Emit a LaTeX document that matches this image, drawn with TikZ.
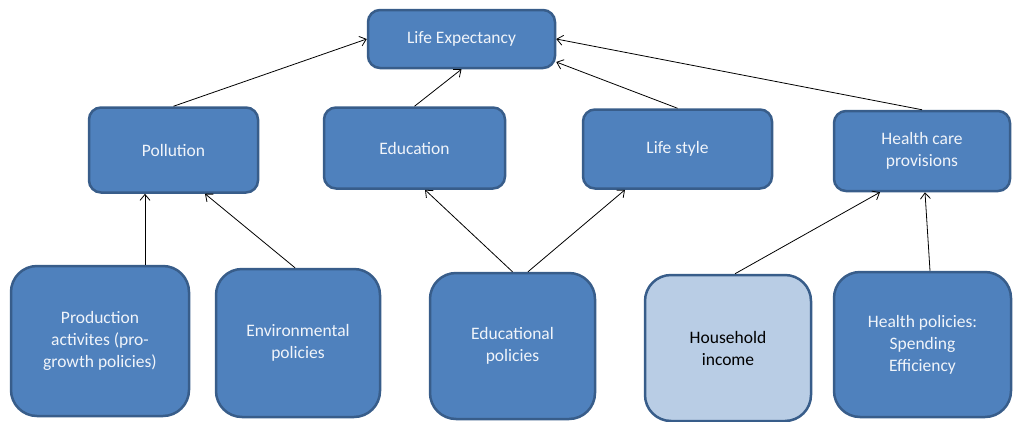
\documentclass[tikz,border=0pt]{standalone}
\usepackage{fontspec}
\setmainfont{Carlito}
\usepackage{tikz}
\definecolor{boxblue}{RGB}{79, 129, 189}
\definecolor{boxedge}{RGB}{56, 93, 138}
\definecolor{boxlight}{RGB}{185, 205, 229}
\definecolor{boxtext}{RGB}{240, 244, 250}
\usetikzlibrary{arrows.meta, shapes}

\begin{document}
\begin{tikzpicture}[x=1pt, y=-1pt,
				>={Straight Barb[length=6pt,width=10pt]},   %Pfeilspitzen
				font=\fontsize{17.5}{22}\selectfont,
				box/.style={draw=boxedge, fill=boxblue, line width=2.5pt, text=boxtext, align=center, rounded corners=12pt, inner sep=0pt},
				bigbox/.style={box, rounded corners=26pt},
				link/.style={->, line width=0.8pt}]
				%Bildbereich
				\useasboundingbox (0,0) rectangle (1013,421);
				% Ziel
				\node[box, minimum width=187, minimum height=58] (le) at (461.5,39) {Life Expectancy};
				% mittlere Ebene
				\node[box, minimum width=169, minimum height=85] (pol) at (173.5,150) {Pollution};
				\node[box, minimum width=181, minimum height=81] (edu) at (414.5,148) {Education};
				\node[box, minimum width=189, minimum height=79] (ls) at (677.5,149) {Life style};
				\node[box, minimum width=176, minimum height=80] (hc) at (922,151) {Health care\\provisions};
				% untere Ebene
				\node[bigbox, minimum width=178, minimum height=150] (prod) at (100,341) {Production\\activites (pro-\\growth policies)};
				\node[bigbox, minimum width=164, minimum height=148] (env) at (298,343) {Environmental\\policies};
				\node[bigbox, minimum width=165, minimum height=146] (eduy) at (512.5,346) {Educational\\policies};
				\node[bigbox, fill=boxlight, text=black, minimum width=166, minimum height=146] (hh) at (728,348) {Household\\income};
				\node[bigbox, minimum width=177, minimum height=145] (hp) at (922.5,344.5) {Health policies:\\Spending\\Efficiency};
				% Pfeile nach oben
				\draw[link] (pol.north) -- (le.west);
				\draw[link] (edu.north) -- (le.south);
				\draw[link] (ls.north) -- ([yshift=-23pt]le.east);
				\draw[link] (hc.north) -- (le.east);
				\draw[link] ([xshift=45pt]prod.north) -- ([xshift=-28.5pt]pol.south);
				\draw[link] ([xshift=-3pt]env.north) -- ([xshift=31.5pt]pol.south);
				\draw[link] (eduy.north) -- ([xshift=10.5pt]edu.south);
				\draw[link] ([xshift=15.5pt]eduy.north) -- ([xshift=-52.5pt]ls.south);
				\draw[link] ([xshift=7pt]hh.north) -- ([xshift=-42pt]hc.south);
				\draw[link] ([xshift=7.5pt]hp.north) -- ([xshift=3pt]hc.south);
			\end{tikzpicture}
\end{document}
